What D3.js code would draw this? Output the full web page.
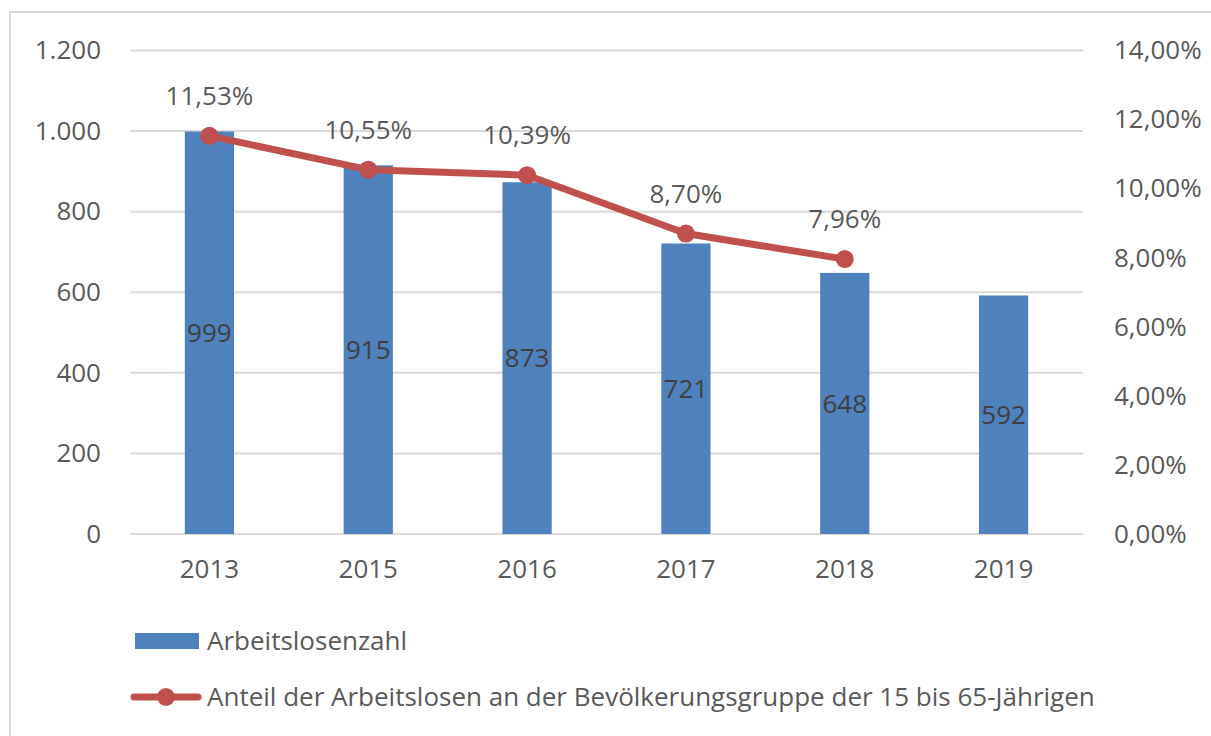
<!DOCTYPE html>
<html>
<head>
<meta charset="utf-8">
<script src="https://cdn.jsdelivr.net/npm/d3@7"></script>
<style>
  body { margin: 0; background: #fff; }
  text { font-family: "Open Sans", "Liberation Sans", sans-serif; }
</style>
</head>
<body>
<svg id="chart" width="1211" height="736"></svg>
<script>
// Daten aus dem Diagramm
const years = ["2013", "2015", "2016", "2017", "2018", "2019"];
const arbeitslose = [999, 915, 873, 721, 648, 592];
const anteil = [11.53, 10.55, 10.39, 8.70, 7.96, null];
const leftTicks = [0, 200, 400, 600, 800, 1000, 1200];
const rightTicks = [0, 2, 4, 6, 8, 10, 12, 14];
const barLabel = "Arbeitslosenzahl";
const lineLabel = "Anteil der Arbeitslosen an der Bevölkerungsgruppe der 15 bis 65-Jährigen";

const blue = "#4f81bd", red = "#c0504d", grey = "#595959", dark = "#404040";
const fontSize = 26;
const font = "Open Sans";

const svg = d3.select("#chart");

// Rahmen
svg.append("rect")
  .attr("x", 10).attr("y", 12)
  .attr("width", 1400).attr("height", 900)
  .attr("fill", "none")
  .attr("stroke", "#d9d9d9")
  .attr("stroke-width", 2);

const x = d3.scaleBand().domain(years).range([130, 1083]).paddingInner(0.69).paddingOuter(0.345);
const y = d3.scaleLinear().domain([0, 1200]).range([534, 50.5]);
const y2 = d3.scaleLinear().domain([0, 14]).range([534, 50.5]);

const fmtNum = v => d3.format(",")(v).replace(/,/g, ".");
const fmtPct = v => v.toFixed(2).replace(".", ",") + "%";

// Gitternetz
svg.append("g")
  .selectAll("line")
  .data(leftTicks)
  .join("line")
  .attr("x1", 130).attr("x2", 1083)
  .attr("y1", d => y(d)).attr("y2", d => y(d))
  .attr("stroke", "#d9d9d9")
  .attr("stroke-width", 2);

// linke Achse
const axisL = svg.append("g")
  .attr("transform", "translate(101,0)")
  .call(d3.axisLeft(y).tickValues(leftTicks).tickFormat(fmtNum).tickSize(0).tickPadding(0));
axisL.select(".domain").remove();
axisL.selectAll("text")
  .attr("font-size", fontSize).attr("font-family", font)
  .attr("fill", grey);

// rechte Achse
const axisR = svg.append("g")
  .attr("transform", "translate(1114,0)")
  .call(d3.axisRight(y2).tickValues(rightTicks).tickFormat(fmtPct).tickSize(0).tickPadding(0));
axisR.select(".domain").remove();
axisR.selectAll("text")
  .attr("font-size", fontSize).attr("font-family", font)
  .attr("fill", grey);

// x-Achse
const axisB = svg.append("g")
  .attr("transform", "translate(0,534)")
  .call(d3.axisBottom(x).tickSize(0).tickPadding(26));
axisB.select(".domain").remove();
axisB.selectAll("text")
  .attr("font-size", fontSize).attr("font-family", font)
  .attr("fill", grey);

// Balken
svg.append("g")
  .selectAll("rect")
  .data(arbeitslose)
  .join("rect")
  .attr("x", (d, i) => x(years[i]))
  .attr("y", d => y(d))
  .attr("width", x.bandwidth())
  .attr("height", d => y(0) - y(d))
  .attr("fill", blue);

svg.append("g")
  .selectAll("text")
  .data(arbeitslose)
  .join("text")
  .attr("x", (d, i) => x(years[i]) + x.bandwidth() / 2)
  .attr("y", d => (y(d) + y(0)) / 2)
  .attr("dy", "0.35em")
  .attr("text-anchor", "middle")
  .attr("font-size", fontSize)
  .attr("fill", dark)
  .text(d => d);

// Linie
const pts = anteil.map((v, i) => ({ year: years[i], v })).filter(d => d.v != null);
const line = d3.line()
  .x(d => x(d.year) + x.bandwidth() / 2)
  .y(d => y2(d.v));

svg.append("path")
  .datum(pts)
  .attr("fill", "none")
  .attr("stroke", red)
  .attr("stroke-width", 7)
  .attr("stroke-linejoin", "round")
  .attr("d", line);

svg.append("g")
  .selectAll("circle")
  .data(pts)
  .join("circle")
  .attr("cx", d => x(d.year) + x.bandwidth() / 2)
  .attr("cy", d => y2(d.v))
  .attr("r", 9)
  .attr("fill", red);

svg.append("g")
  .selectAll("text")
  .data(pts)
  .join("text")
  .attr("x", d => x(d.year) + x.bandwidth() / 2)
  .attr("y", d => y2(d.v) - 40)
  .attr("dy", "0.35em")
  .attr("text-anchor", "middle")
  .attr("font-size", fontSize)
  .attr("fill", grey)
  .text(d => fmtPct(d.v));

// Legende
const leg = svg.append("g");
leg.append("rect")
  .attr("x", 135).attr("y", 633)
  .attr("width", 64).attr("height", 16)
  .attr("fill", blue);
leg.append("text")
  .attr("x", 207).attr("y", 641).attr("dy", "0.35em")
  .attr("font-size", fontSize).attr("fill", grey)
  .text(barLabel);
leg.append("line")
  .attr("x1", 134).attr("x2", 198)
  .attr("y1", 697).attr("y2", 697)
  .attr("stroke", red).attr("stroke-width", 7)
  .attr("stroke-linecap", "round");
leg.append("circle")
  .attr("cx", 166).attr("cy", 697).attr("r", 9)
  .attr("fill", red);
leg.append("text")
  .attr("x", 207).attr("y", 697).attr("dy", "0.35em")
  .attr("font-size", fontSize).attr("fill", grey)
  .text(lineLabel);
</script>
</body>
</html>
